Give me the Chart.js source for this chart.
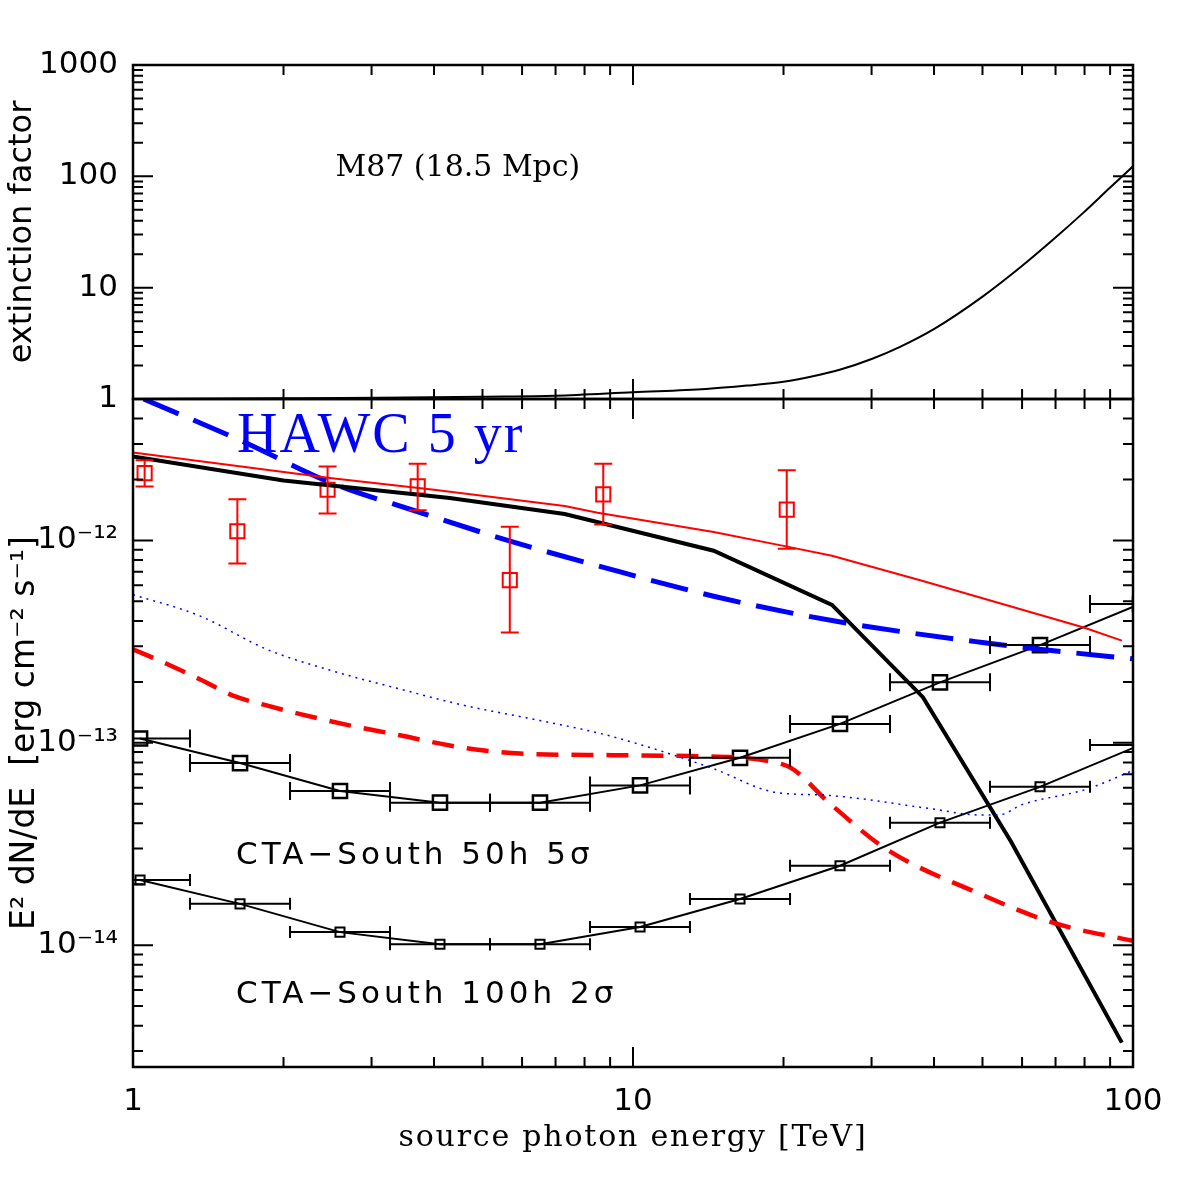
<!DOCTYPE html>
<html>
<head>
<meta charset="utf-8">
<script src="https://cdn.jsdelivr.net/npm/chart.js@4.4.1/dist/chart.umd.min.js"></script>
<style>
  html, body { margin: 0; padding: 0; background: #fff; }
  #chart { display: block; }
</style>
</head>
<body>
<canvas id="chart" width="1196" height="1196"></canvas>
<script>
// top panel: extinction factor vs source photon energy [TeV]
const extEnergy = [1, 2, 3.1, 5, 7, 10, 14, 16.9, 20, 22.9, 25.9, 30.1, 34.2, 40.2, 50.1, 59.7, 69.8, 79.6, 89.9, 100];
const extFactor = [1.0, 1.015, 1.027, 1.05, 1.07, 1.15, 1.23, 1.32, 1.43, 1.60, 1.83, 2.30, 2.94, 4.31, 8.36, 15.4, 27.9, 47.2, 78.9, 123];

// bottom panel: E^2 dN/dE curves
const blackEnergy = [1, 2, 3, 4.3, 7.3, 14.5, 25, 38, 57, 95];
const blackFlux = [2.6e-12, 1.98e-12, 1.78e-12, 1.62e-12, 1.35e-12, 8.9e-13, 4.8e-13, 1.68e-13, 3.25e-14, 3.3e-15];

const redEnergy = [1, 2.5, 4, 7.3, 8.5, 14.5, 20, 25, 38, 80, 95];
const redFlux = [2.72e-12, 2.03e-12, 1.78e-12, 1.48e-12, 1.37e-12, 1.1e-12, 9.4e-13, 8.4e-13, 6.3e-13, 3.7e-13, 3.2e-13];

const hawcEnergy = [1.05, 1.65, 2.5, 3.7, 5.7, 8.5, 14.5, 26, 50, 65, 100];
const hawcFlux = [5.0e-12, 3.1e-12, 1.92e-12, 1.39e-12, 9.9e-13, 7.5e-13, 5.3e-13, 3.95e-13, 3.13e-13, 2.9e-13, 2.6e-13];

const redDashEnergy = [1, 1.17, 1.36, 1.585, 1.85, 2.15, 2.71, 3.42, 4.3, 5.4, 6.3, 8.5, 13, 20, 25, 32, 50, 70, 100];
const redDashFlux = [2.9e-13, 2.45e-13, 2.06e-13, 1.71e-13, 1.53e-13, 1.39e-13, 1.22e-13, 1.09e-13, 9.7e-14, 9.0e-14, 8.8e-14, 8.7e-14, 8.6e-14, 7.8e-14, 4.9e-14, 3.0e-14, 1.77e-14, 1.28e-14, 1.05e-14];

const blueDotEnergy = [1, 1.36, 1.85, 2.5, 3.4, 4.6, 6.3, 8.5, 10.2, 14.5, 19.2, 24.5, 39.3, 49.2, 54, 60, 80.8, 100];
const blueDotFlux = [5.4e-13, 4.24e-13, 2.9e-13, 2.27e-13, 1.85e-13, 1.53e-13, 1.31e-13, 1.12e-13, 9.9e-14, 7.44e-14, 5.7e-14, 5.5e-14, 4.73e-14, 4.4e-14, 4.4e-14, 4.95e-14, 5.9e-14, 7.3e-14];

// red data points with vertical error bars
const obsEnergy = [1.055, 1.617, 2.45, 3.71, 5.67, 8.72, 20.3];
const obsFlux = [2.15e-12, 1.11e-12, 1.78e-12, 1.85e-12, 6.37e-13, 1.69e-12, 1.42e-12];
const obsLow = [1.85e-12, 7.7e-13, 1.36e-12, 1.41e-12, 3.51e-13, 1.2e-12, 9.1e-13];
const obsHigh = [2.49e-12, 1.6e-12, 2.32e-12, 2.39e-12, 1.17e-12, 2.39e-12, 2.22e-12];

// CTA-South sensitivity bins
const ctaEnergy = [1.033, 1.637, 2.594, 4.111, 6.516, 10.33, 16.37, 25.94, 41.11, 65.16, 103.3];
const ctaBinLow = [0.82, 1.30, 2.061, 3.266, 5.176, 8.204, 13.0, 20.61, 32.66, 51.76, 82.04];
const ctaBinHigh = [1.30, 2.061, 3.266, 5.176, 8.204, 13.0, 20.61, 32.66, 51.76, 82.04, 130.0];
const cta50h = [1.05e-13, 7.94e-14, 5.78e-14, 5.06e-14, 5.06e-14, 6.16e-14, 8.43e-14, 1.24e-13, 1.99e-13, 3.04e-13, 4.85e-13];
const cta100h = [2.1e-14, 1.6e-14, 1.16e-14, 1.01e-14, 1.01e-14, 1.23e-14, 1.69e-14, 2.47e-14, 4.03e-14, 6.06e-14, 9.75e-14];

// tick labels
const xTicks = [1, 10, 100];
const extTicks = [1, 10, 100, 1000];
const fluxTicks = [1e-14, 1e-13, 1e-12];
const fluxTickLabels = ['10\u207B\u00B9\u2074', '10\u207B\u00B9\u00B3', '10\u207B\u00B9\u00B2'];

const xTitle = 'source photon energy [TeV]';

const notes = [
  { text: 'M87 (18.5 Mpc)', x: 2.54, y: 119, axis: 'yExt', font: '30px "DejaVu Serif"', spacing: '0px', color: '#000' },
  { text: 'HAWC 5 yr', x: 1.615, y: 3.25e-12, axis: 'yFlux', font: '56px "Liberation Serif"', spacing: '2px', color: '#0000ff' },
  { text: 'CTA\u2212South 50h 5\u03C3', x: 1.607, y: 2.77e-14, axis: 'yFlux', font: '31px "DejaVu Sans"', spacing: '4px', color: '#000' },
  { text: 'CTA\u2212South 100h 2\u03C3', x: 1.607, y: 5.67e-15, axis: 'yFlux', font: '31px "DejaVu Sans"', spacing: '4px', color: '#000' }
];

const pairs = (xs, ys) => xs.map((x, i) => ({ x, y: ys[i] }));

function logSteps(min, max) {
  const out = [];
  for (let d = Math.floor(Math.log10(min)); d <= Math.ceil(Math.log10(max)); d++) {
    for (let m = 1; m < 10; m++) {
      const v = m * Math.pow(10, d);
      if (v >= min * 0.9999 && v <= max * 1.0001) out.push([v, m === 1]);
    }
  }
  return out;
}

const errorBars = {
  id: 'errorBars',
  afterDatasetsDraw(chart) {
    const { ctx, chartArea } = chart;
    const x = chart.scales.x;
    const y = chart.scales.yFlux;
    ctx.save();
    ctx.beginPath();
    ctx.rect(chartArea.left, chartArea.top, chartArea.width, chartArea.height);
    ctx.clip();

    ctx.strokeStyle = '#ff0000';
    ctx.lineWidth = 2;
    obsEnergy.forEach((e, i) => {
      const px = x.getPixelForValue(e);
      const top = y.getPixelForValue(obsHigh[i]);
      const bot = y.getPixelForValue(obsLow[i]);
      ctx.beginPath();
      ctx.moveTo(px, top); ctx.lineTo(px, bot);
      ctx.moveTo(px - 9, top); ctx.lineTo(px + 9, top);
      ctx.moveTo(px - 9, bot); ctx.lineTo(px + 9, bot);
      ctx.stroke();
    });

    ctx.strokeStyle = '#000';
    [[cta50h, 9], [cta100h, 6]].forEach(([vals, cap]) => {
      vals.forEach((v, i) => {
        const py = y.getPixelForValue(v);
        const x0 = x.getPixelForValue(ctaBinLow[i]);
        const x1 = x.getPixelForValue(ctaBinHigh[i]);
        ctx.beginPath();
        ctx.moveTo(x0, py); ctx.lineTo(x1, py);
        ctx.moveTo(x0, py - cap); ctx.lineTo(x0, py + cap);
        ctx.moveTo(x1, py - cap); ctx.lineTo(x1, py + cap);
        ctx.stroke();
      });
    });
    ctx.restore();
  }
};

const frame = {
  id: 'frame',
  afterDraw(chart) {
    const { ctx } = chart;
    const x = chart.scales.x;
    ctx.save();
    ctx.strokeStyle = '#000';
    [chart.scales.yExt, chart.scales.yFlux].forEach(y => {
      ctx.lineWidth = 2;
      logSteps(x.min, x.max).forEach(([v, major]) => {
        const px = x.getPixelForValue(v);
        const len = major ? 20 : 10;
        ctx.beginPath();
        ctx.moveTo(px, y.top); ctx.lineTo(px, y.top + len);
        ctx.moveTo(px, y.bottom); ctx.lineTo(px, y.bottom - len);
        ctx.stroke();
      });
      logSteps(y.min, y.max).forEach(([v, major]) => {
        const py = y.getPixelForValue(v);
        const len = major ? 20 : 10;
        ctx.beginPath();
        ctx.moveTo(x.left, py); ctx.lineTo(x.left + len, py);
        ctx.moveTo(x.right, py); ctx.lineTo(x.right - len, py);
        ctx.stroke();
      });
      ctx.lineWidth = 2.5;
      ctx.strokeRect(x.left, y.top, x.right - x.left, y.bottom - y.top);
    });

    ctx.textBaseline = 'middle';
    notes.forEach(n => {
      ctx.font = n.font;
      ctx.letterSpacing = n.spacing;
      ctx.fillStyle = n.color;
      ctx.textAlign = 'left';
      ctx.fillText(n.text, x.getPixelForValue(n.x), chart.scales[n.axis].getPixelForValue(n.y));
    });

    // x axis title, drawn here to get the wide letter spacing of the original
    ctx.font = '30px "DejaVu Serif"';
    ctx.letterSpacing = '1.8px';
    ctx.fillStyle = '#000';
    ctx.textAlign = 'center';
    ctx.fillText(xTitle, (x.left + x.right) / 2, x.bottom - 58);
    ctx.restore();
  }
};

const tickFont = { family: 'DejaVu Sans', size: 31 };

new Chart(document.getElementById('chart'), {
  type: 'line',
  data: {
    datasets: [
      {
        data: pairs(extEnergy, extFactor), yAxisID: 'yExt',
        borderColor: '#000', borderWidth: 2, pointRadius: 0, cubicInterpolationMode: 'monotone'
      },
      {
        data: pairs(blueDotEnergy, blueDotFlux), yAxisID: 'yFlux',
        borderColor: '#0000ff', borderWidth: 1.5, borderDash: [2, 5], pointRadius: 0, cubicInterpolationMode: 'monotone'
      },
      {
        data: pairs(redDashEnergy, redDashFlux), yAxisID: 'yFlux',
        borderColor: '#ff0000', borderWidth: 4.5, borderDash: [22, 13], pointRadius: 0, cubicInterpolationMode: 'monotone'
      },
      {
        data: pairs(redEnergy, redFlux), yAxisID: 'yFlux',
        borderColor: '#ff0000', borderWidth: 2, pointRadius: 0, tension: 0
      },
      {
        data: pairs(blackEnergy, blackFlux), yAxisID: 'yFlux',
        borderColor: '#000', borderWidth: 4, pointRadius: 0, tension: 0
      },
      {
        data: pairs(hawcEnergy, hawcFlux), yAxisID: 'yFlux',
        borderColor: '#0000ff', borderWidth: 5, borderDash: [38, 16], pointRadius: 0, cubicInterpolationMode: 'monotone'
      },
      {
        data: pairs(ctaEnergy, cta50h), yAxisID: 'yFlux',
        borderColor: '#000', borderWidth: 2, tension: 0,
        pointStyle: 'rect', pointRadius: 10, pointBorderWidth: 2.5,
        pointBorderColor: '#000', pointBackgroundColor: 'rgba(0,0,0,0)'
      },
      {
        data: pairs(ctaEnergy, cta100h), yAxisID: 'yFlux',
        borderColor: '#000', borderWidth: 2, tension: 0,
        pointStyle: 'rect', pointRadius: 6.4, pointBorderWidth: 2,
        pointBorderColor: '#000', pointBackgroundColor: 'rgba(0,0,0,0)'
      },
      {
        data: pairs(obsEnergy, obsFlux), yAxisID: 'yFlux', showLine: false,
        pointStyle: 'rect', pointRadius: 10, pointBorderWidth: 2,
        pointBorderColor: '#ff0000', pointBackgroundColor: 'rgba(0,0,0,0)'
      }
    ]
  },
  options: {
    responsive: false,
    animation: false,
    events: [],
    layout: { padding: { top: 65, right: 63, bottom: 0, left: 0 } },
    plugins: { legend: { display: false }, tooltip: { enabled: false } },
    scales: {
      x: {
        type: 'logarithmic', min: 1, max: 100, position: 'bottom',
        afterBuildTicks: s => { s.ticks = xTicks.map(v => ({ value: v })); },
        afterFit: s => { s.height = 129; },
        grid: { display: false, drawTicks: false },
        border: { display: false },
        ticks: { color: '#000', font: tickFont, padding: 16, maxRotation: 0, autoSkip: false, callback: v => String(v) },
        title: { display: false }
      },
      yFlux: {
        type: 'logarithmic', min: 2.5e-15, max: 5e-12, position: 'left',
        stack: 'panels', stackWeight: 2,
        afterBuildTicks: s => { s.ticks = fluxTicks.map(v => ({ value: v })); },
        afterFit: s => { s.width = 133; },
        grid: { display: false, drawTicks: false },
        border: { display: false },
        ticks: {
          color: '#000', font: tickFont, padding: 15, autoSkip: false,
          callback: v => fluxTickLabels[fluxTicks.findIndex(t => Math.abs(t / v - 1) < 1e-6)] || ''
        },
        title: {
          display: true, text: 'E\u00B2 dN/dE  [erg cm\u207B\u00B2 s\u207B\u00B9]', color: '#000',
          font: { family: 'DejaVu Sans', size: 33 }, padding: { top: 6, bottom: 0 }
        }
      },
      yExt: {
        type: 'logarithmic', min: 1, max: 1000, position: 'left',
        stack: 'panels', stackWeight: 1,
        afterBuildTicks: s => { s.ticks = extTicks.map(v => ({ value: v })); },
        afterFit: s => { s.width = 133; },
        grid: { display: false, drawTicks: false },
        border: { display: false },
        ticks: { color: '#000', font: tickFont, padding: 15, autoSkip: false, callback: v => String(v) },
        title: {
          display: true, text: 'extinction factor', color: '#000',
          font: { family: 'DejaVu Sans', size: 32 }, padding: { top: 3, bottom: 0 }
        }
      }
    }
  },
  plugins: [errorBars, frame]
});
</script>
</body>
</html>
